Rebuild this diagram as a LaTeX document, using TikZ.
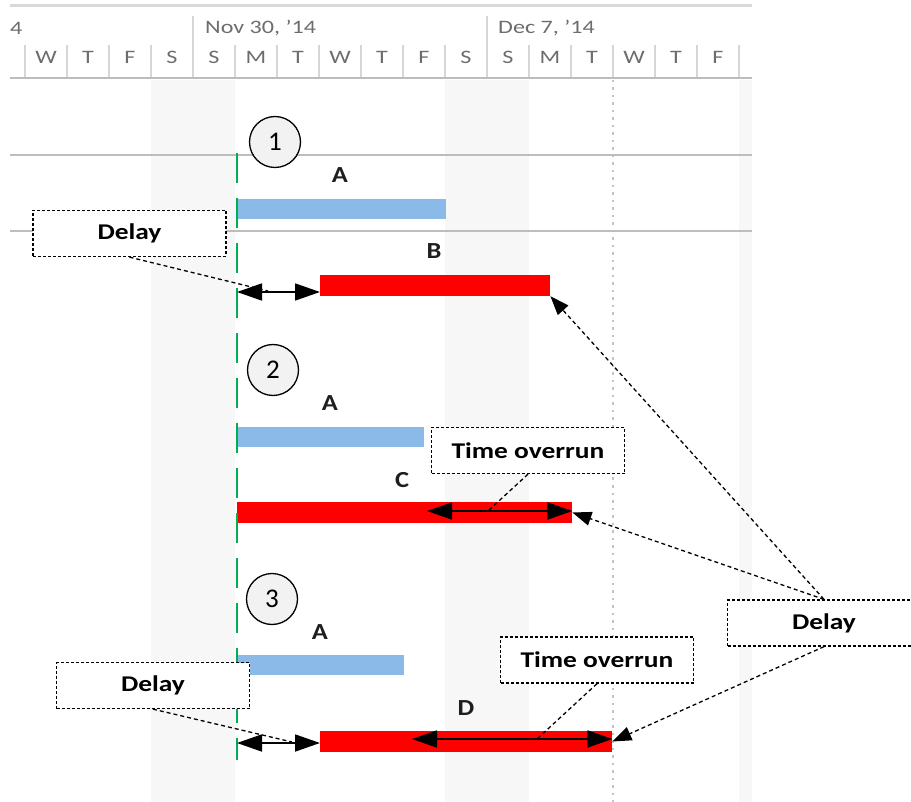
\documentclass[tikz,border=0pt]{standalone}
\usepackage{fontspec}
\setmainfont{Carlito}
\usetikzlibrary{arrows.meta}
\definecolor{hdrgray}{HTML}{6D6D6D}
\definecolor{wkend}{HTML}{F7F7F7}
\definecolor{rowline}{HTML}{BDBDBD}
\definecolor{topline}{HTML}{D9D9D9}
\definecolor{sepline}{HTML}{D6D6D6}
\definecolor{todaygray}{HTML}{C4C4C4}
\definecolor{startgreen}{HTML}{00B050}
\definecolor{barblue}{HTML}{8BBAE9}
\definecolor{barred}{HTML}{FF0000}
\definecolor{circfill}{HTML}{F2F2F2}
\definecolor{lblcol}{HTML}{1E1E1E}
\newcommand{\wx}[2]{\scalebox{#1}[1]{#2}}
\begin{document}
\begin{tikzpicture}[x=1pt,y=-1pt,
  hdr/.style={font=\fontsize{19}{19}\selectfont, text=hdrgray, inner sep=0pt},
  barlbl/.style={font=\fontsize{23}{23}\selectfont\bfseries, text=lblcol, inner sep=0pt},
  bluebar/.style={fill=barblue, draw=none, minimum height=20pt, inner sep=0pt, anchor=west},
  redbar/.style={fill=barred, draw=none, minimum height=21pt, inner sep=0pt, anchor=west},
  callout/.style={draw=black, line width=1.3pt, dash pattern=on 3pt off 2pt, fill=white,
    minimum width=193pt, minimum height=46pt, inner sep=0pt, font=\fontsize{22.5}{22.5}\selectfont\bfseries},
  leader/.style={line width=1.3pt, dash pattern=on 4pt off 3pt},
  leaderarrow/.style={leader, -{Triangle[length=19pt,width=14pt]}},
  spanarrow/.style={line width=1.8pt, {Triangle[length=25pt,width=17pt]}-{Triangle[length=25pt,width=17pt]}},
  num/.style={circle, draw=black, line width=1.3pt, fill=circfill, minimum size=51pt, inner sep=0pt,
    font=\fontsize{27}{27}\selectfont},
]
\useasboundingbox (0,0) rectangle (911,802);
\clip (0,0) rectangle (911,802);

% ---------- chart background ----------
\begin{scope}
\clip (10,0) rectangle (752,802);
\fill[wkend] (151,80) rectangle (235,802);
\fill[wkend] (445,80) rectangle (529,802);
\fill[wkend] (739,80) rectangle (781,802);
\draw[todaygray, line width=2pt, dash pattern=on 2.5pt off 5pt] (613,80) -- (613,802);
% header
\draw[topline, line width=3pt] (10,6) -- (752,6);
\draw[rowline, line width=2.5pt] (10,78) -- (752,78);
\foreach \k in {-4,...,14} {
  \draw[sepline, line width=1.2pt] (193+42*\k,45) -- (193+42*\k,77);
}
\draw[sepline, line width=1.2pt] (193,16) -- (193,77);
\draw[sepline, line width=1.2pt] (487,16) -- (487,77);
\foreach \d [count=\i from -4] in {W,T,F,S,S,M,T,W,T,F,S,S,M,T,W,T,F} {
  \node[hdr] (day\i) at (214+42*\i,57) {\wx{1.27}{\d}};
}
\node[hdr, anchor=west] (wk0) at (10,28) {\wx{1.27}{4}};
\node[hdr, anchor=west] (wk1) at (205,28) {\wx{1.27}{Nov 30, '14}};
\node[hdr, anchor=west] (wk2) at (498,28) {\wx{1.27}{Dec 7, '14}};
% row separators
\draw[rowline, line width=2.5pt] (10,155) -- (752,155);
\draw[rowline, line width=2.5pt] (10,231) -- (752,231);
\end{scope}

% ---------- bars ----------
\node[bluebar, minimum width=209pt] (A1) at (237,209) {};
\node[redbar, minimum width=230pt] (B) at (320,285.5) {};
\node[bluebar, minimum width=187pt] (A2) at (237,437) {};
\node[redbar, minimum width=335pt] (C) at (237,512.5) {};
\node[bluebar, minimum width=167pt] (A3) at (237,665) {};
\node[redbar, minimum width=292pt] (D) at (320,741.5) {};

\node[barlbl] (lA1) at (340,175) {\wx{1.15}{A}};
\node[barlbl] (lB) at (434,251) {\wx{1.15}{B}};
\node[barlbl] (lA2) at (330,403) {\wx{1.15}{A}};
\node[barlbl] (lC) at (402,480) {\wx{1.15}{C}};
\node[barlbl] (lA3) at (320,632) {\wx{1.15}{A}};
\node[barlbl] (lD) at (466,708) {\wx{1.15}{D}};

% start line
\coordinate (gtop) at (237,153);
\coordinate (gbot) at (237,760);
\draw[startgreen, line width=2pt, dash pattern=on 30pt off 15pt] (gtop) -- (gbot);

% ---------- span arrows ----------
\coordinate (g1) at (237,292);
\coordinate (g3) at (237,743);
\coordinate (co1) at (427,511);
\coordinate (co2) at (412,739);
\draw[spanarrow] (g1) -- (g1 -| B.west);
\draw[spanarrow] (g3) -- (g3 -| D.west);
\draw[spanarrow] (co1) -- (co1 -| C.east);
\draw[spanarrow] (co2) -- (co2 -| D.east);

% ---------- callouts ----------
\node[callout] (dl1) at (129.5,233.5) {\wx{1.22}{Delay}};
\node[callout] (to1) at (528,450.5) {\wx{1.22}{Time overrun}};
\node[callout] (dlR) at (824,623) {\wx{1.22}{Delay}};
\node[callout] (to2) at (597,660) {\wx{1.22}{Time overrun}};
\node[callout] (dl3) at (153,685.5) {\wx{1.22}{Delay}};

\coordinate (l1) at (268,291);
\coordinate (l3) at (292,742);
\coordinate (t1) at (488,511);
\coordinate (t2) at (537,739);
\draw[leader] (dl1.south) -- (l1);
\draw[leader] (dl3.south) -- (l3);
\draw[leader] (to1.south) -- (t1);
\draw[leader] (to2.south) -- (t2);
\draw[leaderarrow] (dlR.north) -- (B.south east);
\draw[leaderarrow] (dlR.north) -- (C.east);
\draw[leaderarrow] (dlR.south) -- (D.east);

% ---------- scenario numbers ----------
\node[num] (n1) at (275,142) {1};
\node[num] (n2) at (273,370) {2};
\node[num] (n3) at (272,599) {3};
\end{tikzpicture}
\end{document}
